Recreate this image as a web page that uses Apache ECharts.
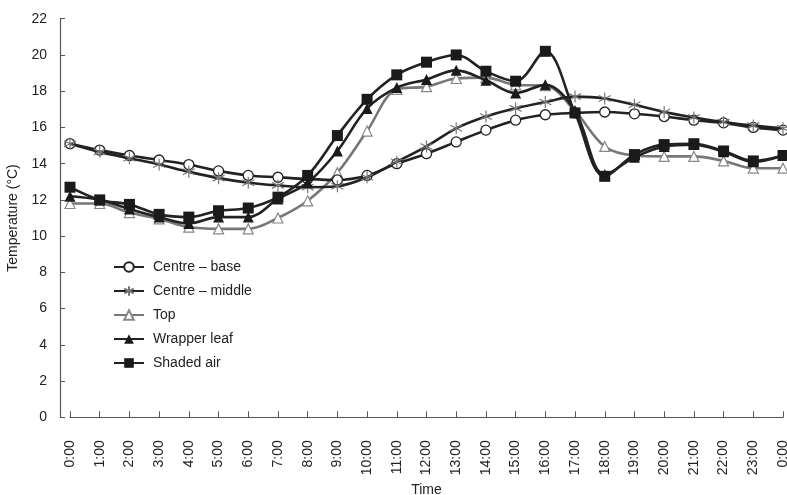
<!DOCTYPE html>
<html><head><meta charset="utf-8">
<script src="https://cdn.jsdelivr.net/npm/echarts@6/dist/echarts.min.js"></script>
<style>html,body{margin:0;padding:0;background:#fff}#c{width:787px;height:495px}</style>
</head><body><div id="c"></div>
<script>
const hours = ['0:00','1:00','2:00','3:00','4:00','5:00','6:00','7:00','8:00','9:00','10:00','11:00','12:00','13:00','14:00','15:00','16:00','17:00','18:00','19:00','20:00','21:00','22:00','23:00','0:00'];
const centreBase   = [15.1,14.75,14.45,14.2,13.95,13.6,13.35,13.25,13.15,13.1,13.35,14.0,14.55,15.2,15.85,16.4,16.7,16.8,16.85,16.75,16.6,16.4,16.25,16.0,15.85];
const centreMiddle = [15.1,14.65,14.3,13.95,13.55,13.2,12.95,12.8,12.7,12.75,13.25,14.1,14.95,15.95,16.6,17.05,17.4,17.7,17.6,17.25,16.85,16.55,16.3,16.1,15.95];
const topLayer     = [11.8,11.8,11.3,10.95,10.5,10.4,10.4,11.0,11.95,13.5,15.8,18.1,18.25,18.7,18.75,18.35,18.3,16.9,14.95,14.45,14.4,14.4,14.15,13.75,13.75];
const wrapperLeaf  = [12.2,12.0,11.5,11.05,10.7,11.05,11.05,12.05,12.95,14.7,17.05,18.2,18.65,19.15,18.6,17.9,18.35,16.9,13.4,14.35,14.95,15.05,14.65,14.1,14.45];
const shadedAir    = [12.7,12.0,11.75,11.2,11.05,11.4,11.55,12.15,13.35,15.55,17.55,18.9,19.6,20.0,19.1,18.55,20.2,16.8,13.3,14.5,15.05,15.1,14.7,14.15,14.45];
const yTicks = {min:0, max:22, interval:2};

const FONT = "'Liberation Sans', Arial, sans-serif";
const chart = echarts.init(document.getElementById('c'));
const mk = (name, data, lineColor, symbol, size, itemStyle, z) => ({
  name, type:'line', data, smooth:0.35, symbol, symbolSize:size, showSymbol:true, z,
  lineStyle:{color:lineColor, width:2.6}, itemStyle, emphasis:{disabled:true}
});
chart.setOption({
  animation:false,
  backgroundColor:'#fff',
  textStyle:{fontFamily:FONT},
  grid:{left:70, right:4, top:18.7, bottom:77.7, containLabel:false, outerBoundsMode:'none'},
  legend:{
    orient:'vertical', left:108, top:255, itemWidth:30, itemHeight:12, itemGap:10,
    textStyle:{fontFamily:FONT, fontSize:14, color:'#222', padding:[0,0,0,4]},
    data:['Centre – base','Centre – middle','Top','Wrapper leaf','Shaded air']
  },
  xAxis:{
    type:'category', data:hours, boundaryGap:false, offset:11,
    name:'Time', nameLocation:'middle', nameGap:54,
    nameTextStyle:{fontFamily:FONT, fontSize:14, color:'#222'},
    axisLine:{lineStyle:{color:'#555', width:1.2}},
    axisTick:{inside:true, length:6, alignWithLabel:true, lineStyle:{color:'#555'}},
    axisLabel:{rotate:90, margin:12, interval:0, fontFamily:FONT, fontSize:14, color:'#222'},
    splitLine:{show:false}
  },
  yAxis:{
    type:'value', min:yTicks.min, max:yTicks.max, interval:yTicks.interval, offset:10,
    name:'Temperature (°C)', nameLocation:'middle', nameGap:31,
    nameTextStyle:{fontFamily:FONT, fontSize:14, color:'#222'},
    axisLine:{show:true, lineStyle:{color:'#555', width:1.2}},
    axisTick:{show:true, inside:true, length:5, lineStyle:{color:'#555'}},
    axisLabel:{margin:13, fontFamily:FONT, fontSize:14, color:'#222'},
    splitLine:{show:false}
  },
  series:[
    mk('Centre – base', centreBase, '#222', 'circle', 10, {color:'#fff', borderColor:'#222', borderWidth:1.3}, 2),
    mk('Centre – middle', centreMiddle, '#222', 'path://M5,0L5,10M0.7,2.5L9.3,7.5M0.7,7.5L9.3,2.5', 12, {color:'rgba(0,0,0,0)', borderColor:'#777', borderWidth:1.2}, 3),
    mk('Top', topLayer, '#777', 'triangle', 10, {color:'#fff', borderColor:'#888', borderWidth:1.2}, 1),
    mk('Wrapper leaf', wrapperLeaf, '#222', 'triangle', 11, {color:'#1a1a1a'}, 4),
    mk('Shaded air', shadedAir, '#222', 'rect', 11, {color:'#1a1a1a'}, 5)
  ]
});
</script></body></html>
